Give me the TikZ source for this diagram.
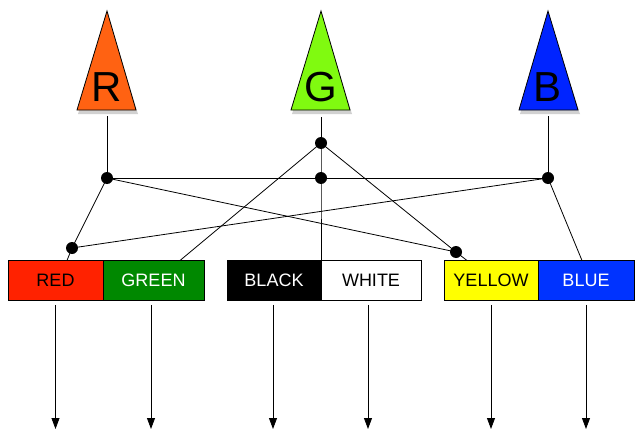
\documentclass[tikz,border=0pt]{standalone}
\usepackage{fontspec}
\setmainfont{Liberation Sans}
\usetikzlibrary{arrows.meta,calc}
\definecolor{triR}{RGB}{255,98,18}
\definecolor{triG}{RGB}{128,250,16}
\definecolor{triB}{RGB}{0,36,255}
\definecolor{boxRed}{RGB}{255,34,0}
\definecolor{boxGreen}{RGB}{0,136,0}
\definecolor{boxYellow}{RGB}{255,255,0}
\definecolor{boxBlue}{RGB}{0,51,255}
\begin{document}
\begin{tikzpicture}[x=1pt,y=-1pt,
  line/.style={line width=0.8pt},
  tri/.style={draw=black,line width=0.8pt,line join=miter},
  trishadow/.style={fill=black,opacity=0.18},
  letter/.style={font=\fontsize{42}{42}\selectfont,anchor=base,inner sep=0pt},
  jdot/.style={circle,fill=black,inner sep=0pt,minimum size=12pt},
  cbox/.style={draw=black,line width=0.8pt,minimum height=40pt,inner sep=0pt,
    font=\fontsize{18}{18}\selectfont},
  arr/.style={line width=0.8pt,-{Triangle[length=11pt,width=8pt]},shorten <=4pt}
]
\useasboundingbox (0,0) rectangle (635,431);

% triangles
\fill[trishadow] (78,114) -- (108,15) -- (138,114) -- cycle;
\fill[trishadow] (292,114) -- (322,15) -- (352,114) -- cycle;
\fill[trishadow] (520,114) -- (549,15) -- (580,114) -- cycle;
\draw[tri,fill=triR] (77,110) -- (107,11) -- (136,110) -- cycle;
\draw[tri,fill=triG] (291,110) -- (321,11) -- (350,110) -- cycle;
\draw[tri,fill=triB] (519,110) -- (548,11) -- (578,110) -- cycle;
\node[letter] (lR) at (107,101) {R};
\node[letter] (lG) at (321,101) {G};
\node[letter] (lB) at (548,101) {B};

% triangle feet
\coordinate (fR) at (107,116);
\coordinate (fG) at (321,117);
\coordinate (fB) at (548,116);

% junction positions
\coordinate (jR) at (107,178);
\coordinate (jGt) at (321,143);
\coordinate (jGm) at (321,178);
\coordinate (jB) at (548,178);
\coordinate (dL) at (72,248);
\coordinate (dR) at (456,252);

% boxes
\node[cbox,fill=boxRed,minimum width=95pt,text=black] (RED) at (55.5,280.5) {RED};
\node[cbox,fill=boxGreen,minimum width=101pt,text=white] (GREEN) at (153.5,280.5) {GREEN};
\node[cbox,fill=black,minimum width=94pt,text=white] (BLACK) at (274,280.5) {BLACK};
\node[cbox,fill=white,minimum width=100pt,text=black] (WHITE) at (371,280.5) {WHITE};
\node[cbox,fill=boxYellow,minimum width=94pt,text=black] (YELLOW) at (491,280.5) {YELLOW};
\node[cbox,fill=boxBlue,minimum width=96pt,text=white] (BLUE) at (586,280.5) {BLUE};

% connector end points on box tops
\coordinate (eRed) at (67,260.5);
\coordinate (eGreen) at (180,260.5);
\coordinate (eBW) at (321,260.5);
\coordinate (eYellow) at (467,260.5);
\coordinate (eBlue) at (582,260.5);

% connectors
\draw[line] (fR) -- (jR);
\draw[line] (jR) -- (jB);
\draw[line] (jR) -- (dL);
\draw[line] (jR) -- (dR);
\draw[line] (dL) -- (jB);
\draw[line] (dL) -- (eRed);
\draw[line] (fG) -- (jGt);
\draw[line] (jGt) -- (eGreen);
\draw[line] (jGt) -- (dR);
\draw[line] (jGt) -- (jGm) -- (eBW);
\draw[line] (fB) -- (jB);
\draw[line] (jB) -- (eBlue);
\draw[line] (dR) -- (eYellow);

% junction dots
\node[jdot] (njR) at (jR) {};
\node[jdot] (njGt) at (jGt) {};
\node[jdot] (njGm) at (jGm) {};
\node[jdot] (njB) at (jB) {};
\node[jdot] (ndL) at (dL) {};
\node[jdot] (ndR) at (dR) {};

% output arrows
\coordinate (bot) at (0,429);
\draw[arr] (RED.south) -- (RED.south |- bot);
\draw[arr] ([xshift=-2.5pt]GREEN.south) -- ([xshift=-2.5pt]GREEN.south |- bot);
\draw[arr] ([xshift=-1pt]BLACK.south) -- ([xshift=-1pt]BLACK.south |- bot);
\draw[arr] ([xshift=-3pt]WHITE.south) -- ([xshift=-3pt]WHITE.south |- bot);
\draw[arr] (YELLOW.south) -- (YELLOW.south |- bot);
\draw[arr] (BLUE.south) -- (BLUE.south |- bot);
\end{tikzpicture}
\end{document}
